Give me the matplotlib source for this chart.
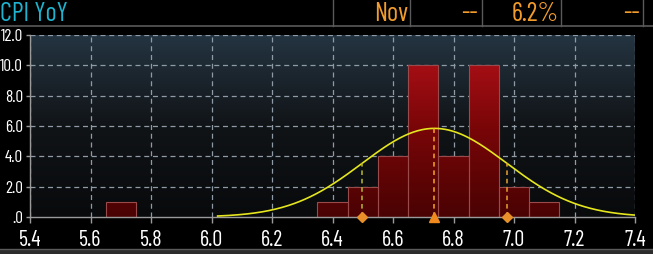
import numpy as np
import matplotlib
matplotlib.use("Agg")
import matplotlib.pyplot as plt
from matplotlib.patches import Rectangle
from matplotlib.lines import Line2D
from matplotlib.colors import LinearSegmentedColormap

# ---- data ----
bin_centers = [5.7, 6.4, 6.5, 6.6, 6.7, 6.8, 6.9, 7.0, 7.1]
bin_counts = [1, 1, 2, 4, 10, 4, 10, 2, 1]
bin_width = 0.1
x_ticks = [5.4, 5.6, 5.8, 6.0, 6.2, 6.4, 6.6, 6.8, 7.0, 7.2, 7.4]
x_tick_labels = ["5.4", "5.6", "5.8", "6.0", "6.2", "6.4", "6.6", "6.8", "7.0", "7.2", "7.4"]
y_ticks = [0, 2, 4, 6, 8, 10, 12]
y_tick_labels = [".0", "2.0", "4.0", "6.0", "8.0", "10.0", "12.0"]
header_title = "CPI YoY"
header_cells = ["Nov", "--", "6.2%", "--"]

FONT = ["Barlow Condensed", "Archivo Narrow", "Roboto Condensed", "DejaVu Sans"]
plt.rcParams['font.family'] = FONT

W, H = 653, 254
fig = plt.figure(figsize=(W / 100, H / 100), dpi=100, facecolor="black")

# ---- header ----
def fx(px):
    return px / W

def fy(py):
    return 1 - py / H

hdr_col = "#5a5a5a"
fig.add_artist(Line2D([0, 1], [fy(25.5), fy(25.5)], color=hdr_col, lw=1.2))
for sx in [333, 410, 482, 561, 643]:
    fig.add_artist(Line2D([fx(sx), fx(sx)], [fy(0), fy(25.5)], color=hdr_col, lw=1.0))
fig.text(fx(0.5), fy(14), header_title, color="#1fb3cf", fontsize=19, ha="left", va="center")
for txt, rx in zip(header_cells, [408, 478, 559, 640]):
    fig.text(fx(rx), fy(14), txt, color="#f39c2c", fontsize=19, ha="right", va="center")

# bottom strip
fig.add_artist(Rectangle((0, 0), 1, fy(249), transform=fig.transFigure, color="#2c2c2c", lw=0))
fig.add_artist(Line2D([0, 1], [fy(249), fy(249)], color="#5a5a5a", lw=1.0))

# ---- axes ----
ax = fig.add_axes([fx(30), fy(217), fx(635) - fx(30), fy(35) - fy(217)])
ax.set_facecolor("black")
ax.set_xlim(5.4, 7.4)
ax.set_ylim(0, 12)

# background gradient
bg = LinearSegmentedColormap.from_list("bg", ["#080a0c", "#111417", "#243441"])
grad = np.linspace(0, 1, 256).reshape(-1, 1)
ax.imshow(grad, cmap=bg, aspect="auto", extent=(5.4, 7.4, 0, 12), origin="lower", zorder=0)

# grid
for gx in x_ticks:
    ax.plot([gx, gx], [0, 12], color="#8f9ba6", lw=0.9, dashes=(4, 3), zorder=1)
for gy in y_ticks[1:]:
    ax.plot([5.4, 7.4], [gy, gy], color="#8f9ba6", lw=0.9, dashes=(4, 3), zorder=1)

# bars with vertical gradient (absolute height based)
barcm = LinearSegmentedColormap.from_list("bar", ["#4a0203", "#7a0608", "#b8121a"])
for c, h in zip(bin_centers, bin_counts):
    x0 = c - bin_width / 2
    rect = Rectangle((x0, 0), bin_width, h, facecolor="none", edgecolor="#9a4a4a", lw=0.8, zorder=3)
    ax.add_patch(rect)
    im = ax.imshow(np.linspace(0, h / 12.0, 128).reshape(-1, 1), cmap=barcm, vmin=0, vmax=1,
                   aspect="auto", extent=(x0, x0 + bin_width, 0, h), origin="lower", zorder=2)
    im.set_clip_path(rect)

# fitted normal curve
vals = np.repeat(bin_centers, bin_counts)
mu = vals.mean()
sd = vals.std(ddof=1)
n = len(vals)
xs = np.linspace(mu - 3 * sd, mu + 3 * sd, 400)
ys = n * bin_width * np.exp(-0.5 * ((xs - mu) / sd) ** 2) / (sd * np.sqrt(2 * np.pi))
ax.plot(xs, ys, color="#e6e61e", lw=1.2, zorder=5, clip_on=True)

def curve_at(x):
    return n * bin_width * np.exp(-0.5 * ((x - mu) / sd) ** 2) / (sd * np.sqrt(2 * np.pi))

ax.plot([mu, mu], [0, curve_at(mu)], color="#f5a623", lw=1.1, dashes=(3, 2.5), zorder=6)
ax.plot([mu - sd, mu - sd], [0, curve_at(mu - sd)], color="#b8b830", lw=1.1, dashes=(3, 2.5), zorder=6)
ax.plot([mu + sd, mu + sd], [0, curve_at(mu + sd)], color="#e8a030", lw=1.1, dashes=(3, 2.5), zorder=6)
ax.plot([mu - sd, mu + sd], [0, 0], ls="none", marker="D", ms=5, color="#e8902a", zorder=8, clip_on=False)
ax.plot([mu], [0], ls="none", marker="^", ms=7, color="#f08a1e", zorder=8, clip_on=False)

# spines
for s in ["top", "right"]:
    ax.spines[s].set_visible(False)
for s in ["left", "bottom"]:
    ax.spines[s].set_color("#9a9a9a")
    ax.spines[s].set_linewidth(1.0)
    ax.spines[s].set_zorder(4)

ax.set_xticks(x_ticks)
ax.set_xticklabels(x_tick_labels)
ax.set_yticks(y_ticks)
ax.set_yticklabels(y_tick_labels)
ax.tick_params(axis="x", colors="#9a9a9a", labelcolor="white", labelsize=16, length=4, pad=5, width=1)
ax.tick_params(axis="y", colors="#9a9a9a", labelcolor="white", labelsize=12.5, length=3, pad=2, width=1)

fig.savefig("out.png", dpi=100, facecolor="black")
